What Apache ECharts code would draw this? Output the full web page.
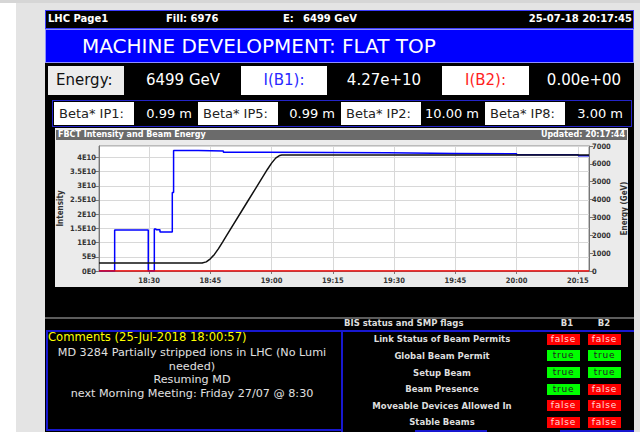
<!DOCTYPE html>
<html>
<head>
<meta charset="utf-8">
<title>LHC Page1</title>
<script src="https://cdn.jsdelivr.net/npm/echarts@6/dist/echarts.min.js"></script>
<style>
  body { margin: 0; width: 640px; height: 432px; overflow: hidden; background: #fff; position: relative;
         font-family: 'DejaVu Sans', sans-serif; }
  .abs { position: absolute; box-sizing: border-box; white-space: nowrap; }
  .top { color: #fff; font-weight: bold; font-size: 10px; line-height: 18px; top: 10px; }
  .ebox { top: 66px; height: 29px; line-height: 29px; font-size: 15px; text-align: center; }
  .bbox { top: 102px; height: 23px; width: 80px; line-height: 23px; font-size: 13px; background: #fff; color: #222; padding-left: 5px; }
  .bval { top: 102px; height: 23px; line-height: 23px; font-size: 13px; color: #fff; text-align: right; width: 60px; }
  .flag { font-size: 8.5px; font-weight: bold; color: #ddd; text-align: center; width: 200px; }
  .badge { width: 33px; height: 11px; line-height: 11px; font-size: 9px; text-align: center; letter-spacing: 0.8px; }
  .cline { color: #e0e0e0; font-size: 11.2px; text-align: center; width: 290px; left: 47px; }
</style>
</head>
<body>
<div class="abs" style="left:0;top:0;width:640px;height:3px;background:#d6d6d6"></div>
<div class="abs" style="left:16px;top:3px;width:624px;height:429px;background:#e4e4e4"></div>
<div class="abs" style="left:45px;top:10px;width:589px;height:422px;background:#000"></div>

<!-- header bar -->
<div class="abs" style="left:45px;top:10px;width:589px;height:19px;border:1px solid #3c3cff"></div>
<div class="abs top" style="left:48px">LHC Page1</div>
<div class="abs top" style="left:166px">Fill: 6976</div>
<div class="abs top" style="left:283px">E:</div>
<div class="abs top" style="left:303px">6499 GeV</div>
<div class="abs top" style="left:432px;width:200px;text-align:right">25-07-18 20:17:45</div>

<div class="abs" style="left:45px;top:29px;width:589px;height:34px;background:#0000ff;border:1px solid #9090ff"></div>
<div class="abs" style="left:82px;top:29px;height:34px;line-height:34px;font-size:20px;color:#fff">MACHINE DEVELOPMENT: FLAT TOP</div>

<!-- energy / intensity row -->
<div class="abs ebox" style="left:48px;width:76px;background:#ececec;color:#111;text-align:left;padding-left:8px">Energy:</div>
<div class="abs ebox" style="left:128px;width:110px;color:#fff">6499 GeV</div>
<div class="abs ebox" style="left:241px;width:86px;background:#fff;color:#2828ff">I(B1):</div>
<div class="abs ebox" style="left:330px;width:108px;color:#fff">4.27e+10</div>
<div class="abs ebox" style="left:442px;width:87px;background:#fff;color:#ff1e1e">I(B2):</div>
<div class="abs ebox" style="left:532px;width:104px;color:#fff">0.00e+00</div>

<!-- beta* row -->
<div class="abs" style="left:52px;top:100px;width:580px;height:27px;border:1px solid #2424c8"></div>
<div id="betaRow"></div>

<!-- FBCT chart panel -->
<div class="abs" style="left:55px;top:128px;width:573px;height:159px;background:#ebebeb"></div>
<div class="abs" style="left:56px;top:130px;width:571px;height:10px;background:#6b6b6b"></div>
<div class="abs" style="left:58px;top:130px;line-height:10px;font-size:8px;font-weight:bold;color:#fff">FBCT Intensity and Beam Energy</div>
<div class="abs" style="left:425px;width:200px;top:130px;line-height:10px;font-size:8px;font-weight:bold;color:#fff;text-align:right">Updated: 20:17:44</div>
<div id="fbct" class="abs" style="left:55px;top:140px;width:573px;height:147px"></div>

<!-- lower part -->
<div class="abs" style="left:45px;top:317px;width:589px;height:2px;background:#5c5c5c"></div>
<div class="abs" style="left:344px;top:318px;line-height:11px;font-size:8.5px;font-weight:bold;color:#ddd">BIS status and SMP flags</div>
<div class="abs" style="left:552px;width:30px;top:318px;line-height:11px;font-size:8.5px;font-weight:bold;color:#ddd;text-align:center">B1</div>
<div class="abs" style="left:589px;width:30px;top:318px;line-height:11px;font-size:8.5px;font-weight:bold;color:#ddd;text-align:center">B2</div>

<div class="abs" style="left:46px;top:330px;width:296px;height:101px;border:2px solid #1818d0;border-right:none"></div>
<div class="abs" style="left:341px;top:330px;width:293px;height:102px;border-top:2px solid #1818d0;border-left:2px solid #1818d0"></div>
<div class="abs" style="left:415px;top:430px;width:72px;height:2px;background:#1818d0"></div>
<div class="abs" style="left:560px;top:430px;width:74px;height:2px;background:#1818d0"></div>
<div id="comments"></div>
<div id="bis"></div>

<script>
  var betaLabels = ['Beta* IP1:', 'Beta* IP5:', 'Beta* IP2:', 'Beta* IP8:'];
  var betaValues = ['0.99 m', '0.99 m', '10.00 m', '3.00 m'];

  var commentTitle = 'Comments (25-Jul-2018 18:00:57)';
  var commentLines = ['MD 3284 Partially stripped ions in LHC (No Lumi', 'needed)', 'Resuming MD', 'next Morning Meeting: Friday 27/07 @ 8:30'];

  var bisFlags = ['Link Status of Beam Permits', 'Global Beam Permit', 'Setup Beam', 'Beam Presence', 'Moveable Devices Allowed In', 'Stable Beams'];
  var bisB1 = [false, true, true, true, false, false];
  var bisB2 = [false, true, true, false, false, false];

  // chart window (last 2 hours) and the time ticks
  var windowStart = '18:17:44';
  var windowEnd = '20:17:44';
  var timeTicks = ['18:30:00', '18:45:00', '19:00:00', '19:15:00', '19:30:00', '19:45:00', '20:00:00', '20:15:00'];

  // beam 1 intensity, value holds until next time
  var b1Times = ['18:17:44', '18:21:34', '18:29:48', '18:31:17', '18:31:42', '18:32:40', '18:35:41', '18:36:00',
                 '18:42:03', '18:48:12', '18:58:48', '19:28:30', '19:44:54', '20:00:00', '20:15:06', '20:17:44'];
  var b1Values = [0, 1.44e10, 0, 1.48e10, 1.45e10, 1.37e10, 2.76e10, 4.24e10,
                  4.22e10, 4.18e10, 4.16e10, 4.14e10, 4.13e10, 4.09e10, 4.06e10, 4.06e10];

  // beam 2 intensity
  var b2Times = ['18:17:44', '20:17:44'];
  var b2Values = [0, 0];

  // beam energy (GeV)
  var energyTimes = ['18:17:44', '18:43:00', '18:44:00', '18:45:00', '18:46:00', '18:47:00', '18:48:00', '18:49:00',
                     '18:54:00', '18:59:00', '19:00:00', '19:01:00', '19:02:00', '19:02:30', '20:17:44'];
  var energyValues = [450, 450, 510, 680, 930, 1250, 1620, 2000,
                      3850, 5700, 6040, 6320, 6470, 6499, 6499];

  // ---- text panels ----
  var html = '';
  var boxLeft = [54, 198, 341, 485];
  var valRight = [192, 335, 479, 623];
  for (var i = 0; i < betaLabels.length; i++) {
    html += '<div class="abs bbox" style="left:' + boxLeft[i] + 'px">' + betaLabels[i] + '</div>';
    html += '<div class="abs bval" style="left:' + (valRight[i] - 60) + 'px">' + betaValues[i] + '</div>';
  }
  document.getElementById('betaRow').innerHTML = html;

  html = '<div class="abs" style="left:48px;top:331px;line-height:13px;font-size:11.6px;color:#ffff00">' + commentTitle + '</div>';
  for (var i = 0; i < commentLines.length; i++) {
    html += '<div class="abs cline" style="top:' + (346 + i * 13.7) + 'px;line-height:14px">' + commentLines[i] + '</div>';
  }
  document.getElementById('comments').innerHTML = html;

  function badge(ok, left, top) {
    return '<div class="abs badge" style="left:' + left + 'px;top:' + top + 'px;background:' + (ok ? '#00ff00;color:#222' : '#ff0000;color:#ffd8d8') + '">' + (ok ? 'true' : 'false') + '</div>';
  }
  html = '';
  for (var i = 0; i < bisFlags.length; i++) {
    var cy = 339.3 + i * 16.6;
    html += '<div class="abs flag" style="left:342px;top:' + (cy - 6) + 'px;line-height:12px">' + bisFlags[i] + '</div>';
    html += badge(bisB1[i], 547, cy - 5.5);
    html += badge(bisB2[i], 588, cy - 5.5);
  }
  document.getElementById('bis').innerHTML = html;

  // ---- FBCT chart ----
  // x is minutes after 18:00
  function toMin(s) {
    var p = s.split(':');
    return (+p[0] - 18) * 60 + (+p[1]) + (+p[2]) / 60;
  }
  function pairs(times, values) {
    var out = [];
    for (var i = 0; i < times.length; i++) out.push([toMin(times[i]), values[i]]);
    return out;
  }
  function pad(n) { return (n < 10 ? '0' : '') + n; }
  function timeLabel(m) {
    m = Math.round(m);
    return pad(18 + Math.floor(m / 60)) + ':' + pad(m % 60);
  }
  function sciLabel(v) {
    if (v === 0) return '0E0';
    var e = Math.floor(Math.log10(v) + 1e-9);
    var m = Math.round(v / Math.pow(10, e) * 10) / 10;
    return m + 'E' + e;
  }

  var tickMins = timeTicks.map(toMin);
  var smallFont = "'DejaVu Sans Condensed', 'Liberation Sans Narrow', 'DejaVu Sans', sans-serif";
  var tickFont = { fontFamily: smallFont, fontSize: 7.5, fontWeight: 'bold', color: '#333' };
  var nameFont = { fontFamily: smallFont, fontSize: 8, fontWeight: 'bold', color: '#333' };
  var myChart = echarts.init(document.getElementById('fbct'), null, { renderer: 'svg' });
  var option = {
    animation: false,
    grid: {
      left: 44, right: 39, top: 6, bottom: 16,
      outerBoundsMode: 'none', containLabel: false,
      show: true, backgroundColor: '#fff', borderColor: '#8a8a8a', borderWidth: 1
    },
    xAxis: {
      type: 'value',
      min: toMin(windowStart),
      max: toMin(windowEnd),
      axisLine: { lineStyle: { color: '#777' } },
      axisTick: { length: 3, customValues: tickMins, lineStyle: { color: '#777' } },
      axisLabel: Object.assign({ margin: 5, customValues: tickMins, formatter: timeLabel }, tickFont),
      splitLine: { show: true, lineStyle: { color: '#d8d8d8' } }
    },
    yAxis: [{
      type: 'value',
      min: 0, max: 4.4e10, interval: 5e9,
      name: 'Intensity', nameLocation: 'middle', nameGap: 35, nameRotate: 90, nameMoveOverlap: false,
      nameTextStyle: nameFont,
      axisLine: { show: true, lineStyle: { color: '#777' } },
      axisTick: { show: true, length: 4, lineStyle: { color: '#777' } },
      axisLabel: Object.assign({ margin: 3, showMaxLabel: false, formatter: sciLabel }, tickFont),
      splitLine: { show: true, lineStyle: { color: '#d8d8d8' } }
    }, {
      type: 'value',
      position: 'right',
      min: 0, max: 7000, interval: 1000,
      name: 'Energy (GeV)', nameLocation: 'middle', nameGap: 31, nameRotate: 90, nameMoveOverlap: false,
      nameTextStyle: nameFont,
      axisLine: { show: true, lineStyle: { color: '#777' } },
      axisTick: { show: true, length: 4, lineStyle: { color: '#777' } },
      axisLabel: Object.assign({ margin: 3, formatter: function (v) { return String(v); } }, tickFont),
      splitLine: { show: false }
    }],
    series: [{
      name: 'I(B1)', type: 'line', step: 'end', yAxisIndex: 0,
      symbol: 'none', lineStyle: { color: '#0000ff', width: 1.5 },
      data: pairs(b1Times, b1Values)
    }, {
      name: 'Energy', type: 'line', yAxisIndex: 1,
      symbol: 'none', lineStyle: { color: '#111', width: 1.5 },
      data: pairs(energyTimes, energyValues)
    }, {
      name: 'I(B2)', type: 'line', yAxisIndex: 0,
      symbol: 'none', lineStyle: { color: '#ff0000', width: 1.5 },
      data: pairs(b2Times, b2Values)
    }]
  };
  myChart.setOption(option);
</script>
</body>
</html>
